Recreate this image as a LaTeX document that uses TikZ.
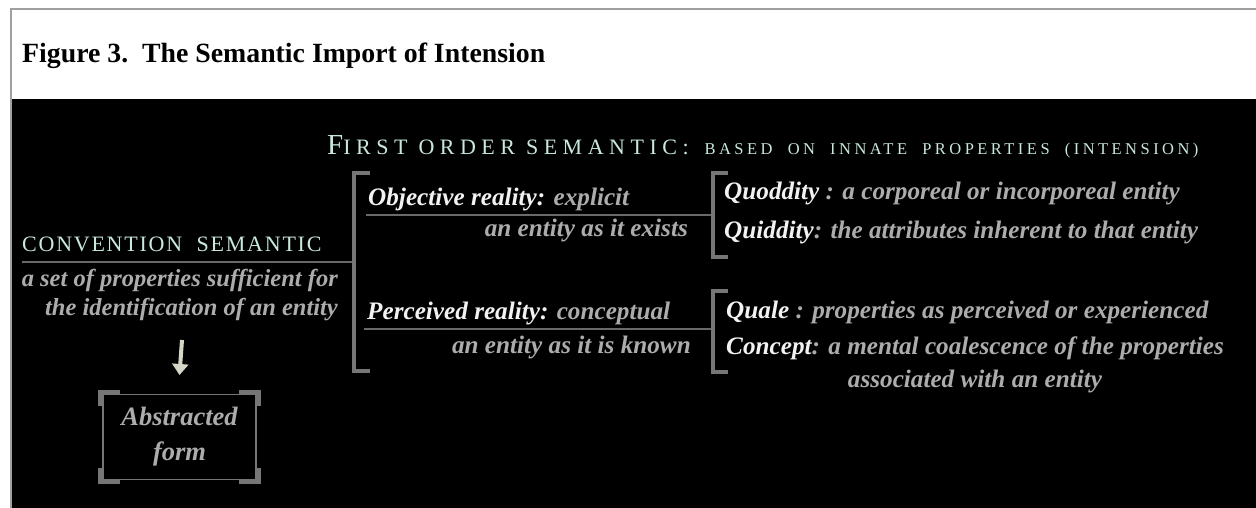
\documentclass[tikz,border=0pt]{standalone}
\usepackage{fontspec}
\setmainfont{Liberation Serif}
\usepackage{tikz}
\usetikzlibrary{arrows.meta, positioning}
\definecolor{mint}{RGB}{200,232,218}
\definecolor{softgray}{RGB}{172,172,172}
\definecolor{brightwhite}{RGB}{242,242,242}
\definecolor{bracketgray}{RGB}{118,118,118}
\definecolor{rulegray}{RGB}{105,105,105}
\definecolor{framegray}{RGB}{160,160,160}
\definecolor{ivory}{RGB}{214,214,198}
\newcommand{\hw}[1]{\textcolor{brightwhite}{#1}}
\newcommand{\capsfont}[2]{\fontsize{#1}{#1}\selectfont\addfontfeatures{LetterSpace=#2}}

\begin{document}
\begin{tikzpicture}[x=1pt, y=-1pt,
    bodytext/.style={text=softgray, font=\fontsize{25.2}{30}\selectfont\bfseries\itshape, inner sep=0pt},
    headtext/.style={text=mint, inner sep=0pt},
    bracket/.style={draw=bracketgray, line width=4pt},
    hrule/.style={draw=rulegray, line width=1.5pt}]
  \useasboundingbox (0,0) rectangle (1256,508);
  % page background and frame
  \fill[white] (0,0) rectangle (1256,508);
  \fill[black] (12,99) rectangle (1256,508);
  \draw[framegray, line width=2pt] (11,508) -- (11,9) -- (1256,9);

  \node[anchor=base west, inner sep=0pt, font=\fontsize{27.8}{32}\selectfont\bfseries] (title) at (22,63)
    {Figure 3.\ \ The Semantic Import of Intension};

  % heading of the first order semantic
  \node[headtext, anchor=base west] (fos) at (327,155)
    {{\capsfont{29}{8}F}{\capsfont{22}{25}IRST ORDER SEMANTIC:}\hspace{16pt}{\capsfont{16.5}{21}BASED\ \ ON\ \ INNATE\ \ PROPERTIES\ \ (INTENSION)}};

  % convention semantic
  \node[headtext, anchor=base west] (conv) at (22,251) {\capsfont{22}{8}CONVENTION\ \ SEMANTIC};
  \node[bodytext, anchor=base east, font=\fontsize{24.5}{30}\selectfont\bfseries\itshape] (def1) at (338,286) {a set of properties sufficient for};
  \node[bodytext, anchor=base east, font=\fontsize{24.5}{30}\selectfont\bfseries\itshape] (def2) at (338,315) {the identification of an entity};
  \coordinate (convleft) at (22,262);
  \coordinate (bigbr) at (354,262);
  \draw[hrule] (convleft) -- (bigbr);

  % abstracted form
  \node[bodytext, align=center, font=\fontsize{26.5}{35}\selectfont\bfseries\itshape,
        minimum width=153pt, minimum height=85pt, draw=bracketgray, line width=1.5pt] (absbox) at (179.5,437)
    {Abstracted\\form};
  \draw[-{Triangle[length=11pt, width=16pt]}, ivory, line width=4pt] (182,340) -- (absbox.north |- 0,375);
  \draw[bracket] (absbox.north west) ++(-2,12) -- ++(0,-14) -- ++(20,0);
  \draw[bracket] (absbox.north east) ++(2,12) -- ++(0,-14) -- ++(-20,0);
  \draw[bracket] (absbox.south west) ++(-2,-12) -- ++(0,14) -- ++(20,0);
  \draw[bracket] (absbox.south east) ++(2,-12) -- ++(0,14) -- ++(-20,0);

  % the big bracket
  \draw[bracket] (370,173) -| (354,371) -- (370,371);

  % objective reality
  \node[bodytext, anchor=base west] (obj) at (368,205) {\hw{Objective reality:} explicit};
  \node[bodytext, anchor=base east] (objsub) at (688,236) {an entity as it exists};
  \coordinate (objleft) at (366,215);
  \coordinate (objbr) at (713,215);
  \draw[hrule] (objleft) -- (objbr);

  % perceived reality
  \node[bodytext, anchor=base west] (per) at (367,319) {\hw{Perceived reality:} conceptual};
  \node[bodytext, anchor=base east] (persub) at (691,353) {an entity as it is known};
  \coordinate (perleft) at (364,329);
  \coordinate (perbr) at (713,329);
  \draw[hrule] (perleft) -- (perbr);

  % small brackets
  \draw[bracket] (728,173) -| (713,257) -- (728,257);
  \draw[bracket] (728,291) -| (713,372) -- (728,372);

  \node[bodytext, anchor=base west] (quod) at (724,199) {\hw{Quoddity} : a corporeal or incorporeal entity};
  \node[bodytext, anchor=base west] (quid) at (724,238) {\hw{Quiddity}: the attributes inherent to that entity};
  \node[bodytext, anchor=base west] (qual) at (726,318) {\hw{Quale} : properties as perceived or experienced};
  \node[bodytext, anchor=base west] (conc) at (726,354) {\hw{Concept}: a mental coalescence of the properties};
  \node[bodytext, anchor=base] (assoc) at (975,387) {associated with an entity};
\end{tikzpicture}
\end{document}
